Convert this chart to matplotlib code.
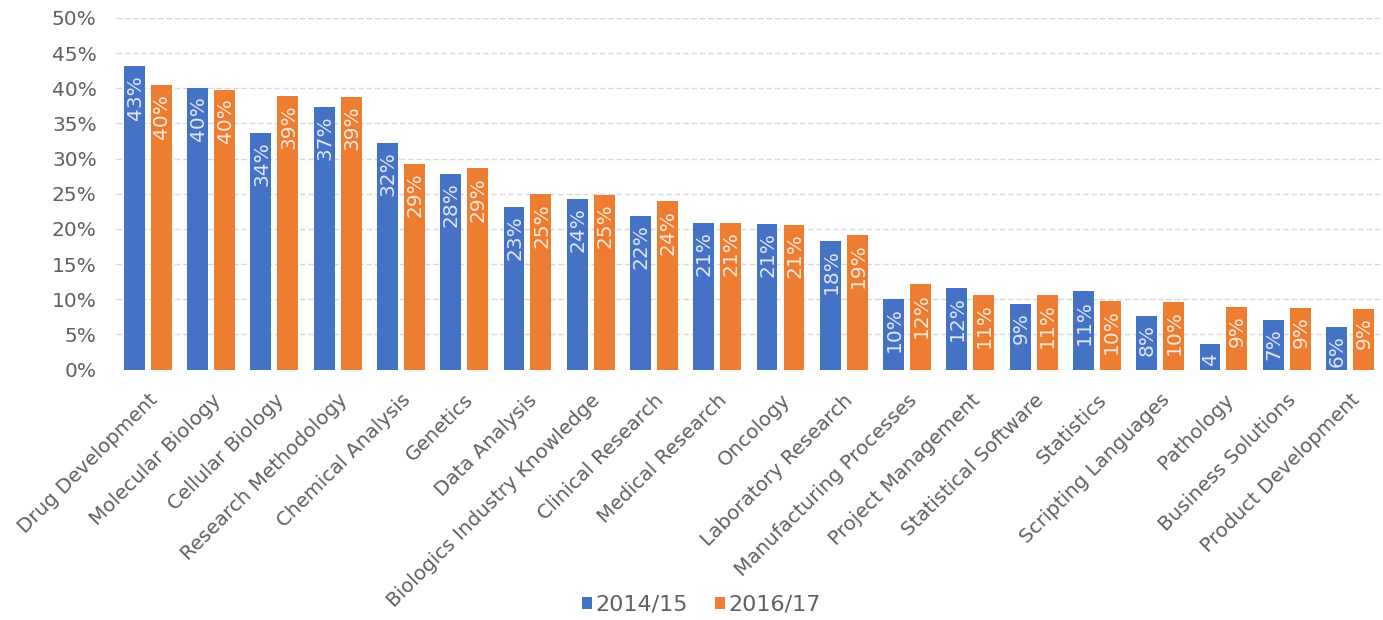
import numpy as np
import matplotlib
matplotlib.use("Agg")
import matplotlib.pyplot as plt

skills = ["Drug Development", "Molecular Biology", "Cellular Biology",
          "Research Methodology", "Chemical Analysis", "Genetics",
          "Data Analysis", "Biologics Industry Knowledge", "Clinical Research",
          "Medical Research", "Oncology", "Laboratory Research",
          "Manufacturing Processes", "Project Management", "Statistical Software",
          "Statistics", "Scripting Languages", "Pathology",
          "Business Solutions", "Product Development"]
y2014 = [43.1, 40.0, 33.6, 37.4, 32.2, 27.8, 23.1, 24.3, 21.9, 20.9,
         20.7, 18.3, 10.1, 11.6, 9.3, 11.1, 7.6, 3.7, 7.1, 6.1]
y2016 = [40.4, 39.8, 38.9, 38.7, 29.3, 28.6, 24.9, 24.8, 23.9, 20.9,
         20.6, 19.1, 12.1, 10.6, 10.6, 9.8, 9.6, 8.9, 8.8, 8.6]
series = ["2014/15", "2016/17"]

blue = "#4472C4"
orange = "#ED7D31"
grey = "#606060"
plt.rcParams['font.family'] = ['DejaVu Sans']

fig = plt.figure(figsize=(13.83, 6.2), dpi=100)
ax = fig.add_axes([0.084, 0.404, 0.915, 0.567])

x = np.arange(len(skills))
w = 0.33
off = 0.213
b1 = ax.bar(x - off, y2014, w, color=blue, label=series[0], zorder=3)
b2 = ax.bar(x + off, y2016, w, color=orange, label=series[1], zorder=3)

# value labels, rotated, just inside the top of each bar
for bars, vals, tc in [(b1, y2014, "#dfe6f7"), (b2, y2016, "#fde6d6")]:
    for rect, v in zip(bars, vals):
        txt = f"{v:.0f}%" if v >= 5 else f"{v:.0f}"
        ax.annotate(txt, (rect.get_x() + rect.get_width() / 2, v),
                    xytext=(0.5, -6), textcoords="offset points",
                    rotation=90, ha="center", va="top",
                    fontsize=14.5, color=tc, zorder=4)

ax.set_xlim(-0.5, len(skills) - 0.5)
ax.set_ylim(0, 50)
ax.set_yticks(np.arange(0, 51, 5))
ax.set_yticklabels([f"{t}%" for t in range(0, 51, 5)], fontsize=14.5, color=grey)
ax.set_xticks(x)
ax.set_xticklabels(skills, rotation=45, ha="right", rotation_mode="anchor",
                   fontsize=14.3, color=grey)
ax.tick_params(axis="y", length=0, pad=14)
ax.tick_params(axis="x", length=0, pad=15)
ax.yaxis.grid(True, color="#d9d9d9", linestyle=(0, (4, 2)), linewidth=1, zorder=0)
for s in ax.spines.values():
    s.set_visible(False)

fig.legend(handles=[b1, b2], labels=series, loc="center",
           bbox_to_anchor=(0.507, 0.025), ncol=2, frameon=False,
           fontsize=16, handlelength=0.45, handleheight=0.45,
           handletextpad=0.15, columnspacing=1.2, labelcolor=grey)

fig.savefig("out.png", dpi=100)
